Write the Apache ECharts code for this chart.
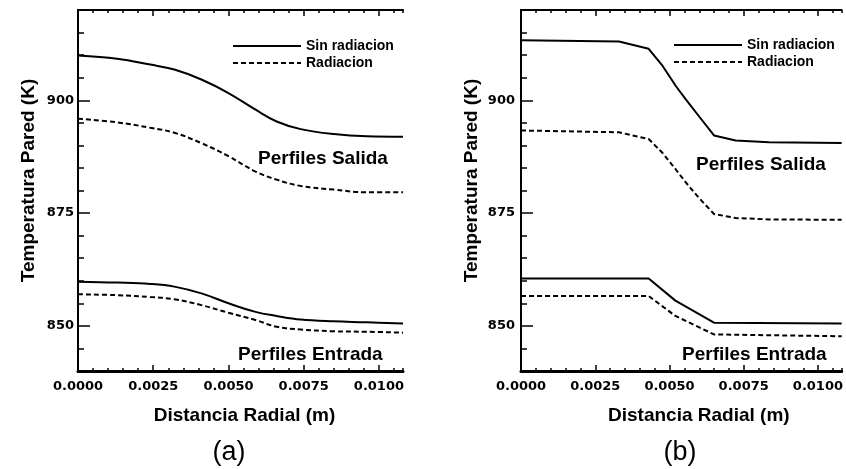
<!DOCTYPE html>
<html>
<head>
<meta charset="utf-8">
<script src="https://cdn.jsdelivr.net/npm/echarts@6/dist/echarts.min.js"></script>
<style>html,body{margin:0;padding:0;background:#fff}#chart{width:846px;height:469px}</style>
</head>
<body>
<div id="chart"></div>
<script>
// panel (a): smooth profiles
var distA = [0, 0.0013, 0.0024, 0.0032, 0.0041, 0.0050, 0.0059, 0.0066, 0.0074, 0.0085, 0.0096, 0.0108];
var salidaSinA = [909.9, 909.2, 907.9, 906.8, 904.6, 901.6, 897.9, 895.3, 893.6, 892.5, 892.0, 891.9];
var salidaRadA = [895.9, 895.1, 893.9, 892.8, 890.5, 887.6, 884.2, 882.4, 881.0, 880.2, 879.6, 879.6];
var entradaSinA = [859.8, 859.6, 859.3, 858.7, 857.2, 855.0, 853.1, 852.2, 851.4, 851.0, 850.8, 850.5];
var entradaRadA = [857.0, 856.8, 856.4, 855.9, 854.6, 852.9, 851.3, 849.8, 849.2, 848.8, 848.7, 848.5];

// panel (b): piecewise profiles
var distB = [0, 0.0033, 0.0043, 0.00477, 0.00522, 0.00555, 0.0060, 0.0065, 0.00723, 0.00835, 0.0108];
var salidaSinB = [913.3, 913.0, 911.4, 907.6, 903.1, 900.2, 896.4, 892.2, 891.1, 890.7, 890.5];
var salidaRadB = [893.3, 892.9, 891.4, 888.3, 884.6, 881.8, 878.3, 874.8, 873.9, 873.6, 873.5];
var distEntB = [0, 0.0043, 0.0052, 0.0065, 0.0108];
var entradaSinB = [860.5, 860.5, 855.6, 850.7, 850.5];
var entradaRadB = [856.6, 856.6, 852.2, 848.1, 847.7];

var xLabels = [0, 0.0025, 0.005, 0.0075, 0.01];
var yLabels = [850, 875, 900];
var legendNames = ['Sin radiacion', 'Radiacion'];

var X_MAX = 0.0108, Y_MIN = 840, Y_MAX = 920;

var chart = echarts.init(document.getElementById('chart'));

function pairs(xs, ys) {
    return xs.map(function (x, i) { return [x, ys[i]]; });
}

var tickLine = {color: '#000', width: 1.5};
var boldSans = {color: '#000', fontFamily: 'Liberation Sans', fontWeight: 'bold', fontSize: 19};

// tick-only axis, pushed into the plot by its own tick length so the ticks point inward
function tickAxis(g, pos, lo, hi, len, interval, values) {
    var ax = {
        type: 'value', gridIndex: g, position: pos, min: lo, max: hi, offset: -len,
        axisLine: {show: false},
        axisTick: {length: len, lineStyle: tickLine},
        axisLabel: {show: false}, splitLine: {show: false}
    };
    if (interval) ax.interval = interval;
    if (values) ax.axisTick.customValues = values;
    return ax;
}

// grid g: frame + labels; g+1: minor ticks; g+2: major ticks
function xAxes(g, pad) {
    return [{
        type: 'value', gridIndex: g, position: 'bottom', min: 0, max: X_MAX,
        axisLine: {lineStyle: {color: '#000', width: 3}},
        axisTick: {show: false},
        axisLabel: {
            customValues: xLabels, margin: 9, color: '#000',
            fontFamily: 'DejaVu Sans', fontWeight: 'bold', fontSize: 13,
            formatter: function (v) { return v.toFixed(4); }
        },
        splitLine: {show: false},
        name: 'Distancia Radial (m)', nameLocation: 'middle', nameGap: 35,
        nameTextStyle: Object.assign({padding: [0, 0, 0, pad]}, boldSans)
    }, {
        type: 'value', gridIndex: g, position: 'top', min: 0, max: X_MAX,
        axisLine: {lineStyle: {color: '#000', width: 2}},
        axisTick: {show: false}, axisLabel: {show: false}, splitLine: {show: false}
    },
        tickAxis(g + 1, 'bottom', 0, X_MAX, 3, 0.0005),
        tickAxis(g + 1, 'top', 0, X_MAX, 3, 0.0005),
        tickAxis(g + 2, 'bottom', 0, X_MAX, 6, null, xLabels),
        tickAxis(g + 2, 'top', 0, X_MAX, 6, null, xLabels)
    ];
}

function yAxes(g, margin) {
    return [{
        type: 'value', gridIndex: g, position: 'left', min: Y_MIN, max: Y_MAX,
        axisLine: {lineStyle: {color: '#000', width: 2}},
        axisTick: {show: false},
        axisLabel: {
            customValues: yLabels, margin: margin, color: '#000',
            fontFamily: 'DejaVu Sans', fontWeight: 'bold', fontSize: 13
        },
        splitLine: {show: false},
        name: 'Temperatura Pared (K)', nameLocation: 'middle', nameGap: 40,
        nameTextStyle: Object.assign({padding: [0, 0, 0, 20]}, boldSans)
    }, {
        type: 'value', gridIndex: g, position: 'right', min: Y_MIN, max: Y_MAX,
        axisLine: {lineStyle: {color: '#000', width: 2}},
        axisTick: {show: false}, axisLabel: {show: false}, splitLine: {show: false}
    },
        tickAxis(g + 1, 'left', Y_MIN, Y_MAX, 3, 5),
        tickAxis(g + 1, 'right', Y_MIN, Y_MAX, 3, 5),
        tickAxis(g + 2, 'left', Y_MIN, Y_MAX, 6, null, yLabels),
        tickAxis(g + 2, 'right', Y_MIN, Y_MAX, 6, null, yLabels)
    ];
}

function line(name, axis, xs, ys, dashed, smooth) {
    return {
        name: name, type: 'line', xAxisIndex: axis, yAxisIndex: axis,
        data: pairs(xs, ys), symbol: 'none', smooth: smooth,
        lineStyle: {color: '#000', width: 2, type: dashed ? [5, 3] : 'solid'},
        itemStyle: {color: '#000'}
    };
}

function legendAt(left, top) {
    return {
        data: legendNames, orient: 'vertical', left: left, top: top,
        itemWidth: 68, itemHeight: 14, itemGap: 3, padding: 0,
        itemStyle: {opacity: 0},
        textStyle: {color: '#000', fontFamily: 'Liberation Sans', fontWeight: 'bold', fontSize: 14}
    };
}

function label(text, x, y, font) {
    return {
        type: 'text', x: x, y: y,
        style: {text: text, font: font, fill: '#000', textAlign: 'left', textVerticalAlign: 'middle'}
    };
}

var rectA = {left: 78, top: 10, width: 325, height: 361};
var rectB = {left: 521, top: 10, width: 321, height: 361};

var option = {
    animation: false,
    backgroundColor: '#fff',
    grid: [rectA, rectA, rectA, rectB, rectB, rectB],
    xAxis: xAxes(0, 8).concat(xAxes(3, 35)),
    yAxis: yAxes(0, 4).concat(yAxes(3, 6)),
    legend: [legendAt(232, 39), legendAt(673, 38)],
    series: [
        line('Sin radiacion', 0, distA, salidaSinA, false, 0.4),
        line('Radiacion', 0, distA, salidaRadA, true, 0.4),
        line('Sin radiacion', 0, distA, entradaSinA, false, 0.4),
        line('Radiacion', 0, distA, entradaRadA, true, 0.4),
        line('Sin radiacion', 6, distB, salidaSinB, false, false),
        line('Radiacion', 6, distB, salidaRadB, true, false),
        line('Sin radiacion', 6, distEntB, entradaSinB, false, false),
        line('Radiacion', 6, distEntB, entradaRadB, true, false)
    ],
    graphic: [
        label('Perfiles Salida', 258, 159, 'bold 19px "Liberation Sans"'),
        label('Perfiles Entrada', 238, 355, 'bold 19px "Liberation Sans"'),
        label('Perfiles Salida', 696, 165, 'bold 19px "Liberation Sans"'),
        label('Perfiles Entrada', 682, 355, 'bold 19px "Liberation Sans"'),
        {type: 'text', x: 229, y: 453, style: {text: '(a)', font: '27px "Liberation Sans"', fill: '#000', textAlign: 'center', textVerticalAlign: 'middle'}},
        {type: 'text', x: 680, y: 453, style: {text: '(b)', font: '27px "Liberation Sans"', fill: '#000', textAlign: 'center', textVerticalAlign: 'middle'}}
    ]
};

chart.setOption(option);
</script>
</body>
</html>
